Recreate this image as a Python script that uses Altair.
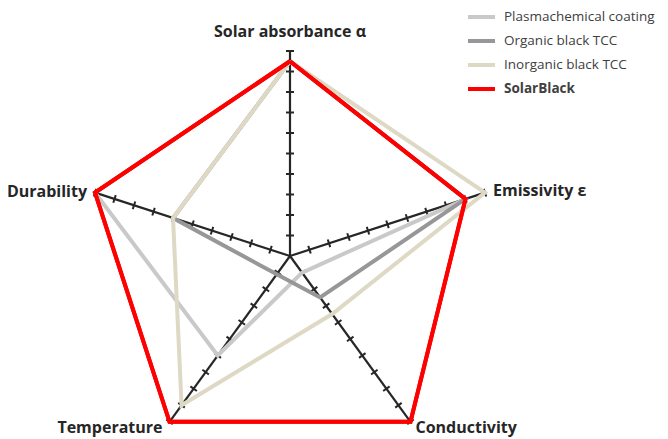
import math
import altair as alt
import pandas as pd

# ---- data ----
categories = ["Solar absorbance α", "Emissivity ε", "Conductivity", "Temperature", "Durability"]
series_names = ["Plasmachemical coating", "Organic black TCC", "Inorganic black TCC", "SolarBlack"]
series_colors = ["#C9C9C9", "#979797", "#DDD9C4", "#FF0000"]
plasmachemical = [9.5, 9.0, 1.0, 6.0, 10.0]
organic_tcc = [9.5, 9.0, 2.5, 1.1, 6.0]
inorganic_tcc = [9.5, 10.0, 3.5, 9.0, 6.0]
solarblack = [9.5, 9.0, 10.0, 10.0, 10.0]
axis_max = 10
tick_values = list(range(1, 11))

# ---- layout constants ----
W, H = 652, 431
center_px = (282, 248)
unit_px = 20.5
tick_half = 4.0 / unit_px

def ang(i):
    return math.radians(90 - 72 * i)

# series table
rows = []
for name, vals in zip(series_names, [plasmachemical, organic_tcc, inorganic_tcc, solarblack]):
    for k in range(len(categories) + 1):
        i = k % len(categories)
        rows.append({"series": name, "category": categories[i], "order": k,
                     "x": vals[i] * math.cos(ang(i)), "y": vals[i] * math.sin(ang(i))})
series_df = pd.DataFrame(rows)

# axis spokes
axis_df = pd.DataFrame([{"category": c, "x": 0.0, "y": 0.0,
                         "x2": axis_max * math.cos(ang(i)), "y2": axis_max * math.sin(ang(i))}
                        for i, c in enumerate(categories)])

# tick marks (perpendicular crosses)
trows = []
for i, c in enumerate(categories):
    a = ang(i)
    px, py = -math.sin(a), math.cos(a)
    for t in tick_values:
        cx, cy = t * math.cos(a), t * math.sin(a)
        trows.append({"x": cx - px * tick_half, "y": cy - py * tick_half,
                      "x2": cx + px * tick_half, "y2": cy + py * tick_half})
tick_df = pd.DataFrame(trows)

label_df = pd.DataFrame([{"category": c, "x": axis_max * math.cos(ang(i)), "y": axis_max * math.sin(ang(i))}
                         for i, c in enumerate(categories)])
legend_df = pd.DataFrame({"series": series_names})

xdom = [-center_px[0] / unit_px, (W - center_px[0]) / unit_px]
ydom = [-(H - center_px[1]) / unit_px, center_px[1] / unit_px]
xs = alt.Scale(domain=xdom, nice=False, zero=False)
ys = alt.Scale(domain=ydom, nice=False, zero=False)

X = lambda f: alt.X(f, type="quantitative", scale=xs, axis=None)
Y = lambda f: alt.Y(f, type="quantitative", scale=ys, axis=None)
color_scale = alt.Scale(domain=series_names, range=series_colors)

spokes = alt.Chart(axis_df).mark_rule(color="#262626", strokeWidth=2.2).encode(
    x=X("x"), y=Y("y"), x2="x2", y2="y2")
ticks = alt.Chart(tick_df).mark_rule(color="#262626", strokeWidth=2).encode(
    x=X("x"), y=Y("y"), x2="x2", y2="y2")

lines = alt.Chart(series_df).mark_line(strokeWidth=4, strokeJoin="miter").encode(
    x=X("x"), y=Y("y"), order=alt.Order("order:Q"),
    color=alt.Color("series:N", scale=color_scale, legend=None),
)
red = alt.Chart(series_df).transform_filter(alt.datum.series == "SolarBlack").mark_line(
    strokeWidth=4, strokeJoin="miter", color="#FF0000").encode(
    x=X("x"), y=Y("y"), order=alt.Order("order:Q"))

label_cfg = [
    ("center", 0, -14),
    ("left", 8, 3),
    ("left", 5, 11),
    ("right", -7, 11),
    ("right", -8, 4),
]
labels = []
for c, (al, dx, dy) in zip(categories, label_cfg):
    labels.append(
        alt.Chart(label_df).transform_filter(alt.datum.category == c).mark_text(
            align=al, baseline="alphabetic", dx=dx, dy=dy, font="Open Sans", fontSize=16,
            fontWeight="bold", color="#262626").encode(x=X("x"), y=Y("y"), text="category:N")
    )

# manual legend
LY = alt.Y("series:N", scale=alt.Scale(type="point", domain=series_names, range=[9, 81], padding=0), axis=None)
leg_sym = alt.Chart(legend_df).mark_rule(strokeWidth=4).encode(
    x=alt.value(460), x2=alt.value(487), y=LY,
    color=alt.Color("series:N", scale=color_scale, legend=None))
leg_txt = alt.Chart(legend_df).transform_filter(alt.datum.series != "SolarBlack").mark_text(
    align="left", baseline="middle", font="Open Sans", fontSize=13.5, color="#404040").encode(
    x=alt.value(496), y=LY, text="series:N")
leg_txt_b = alt.Chart(legend_df).transform_filter(alt.datum.series == "SolarBlack").mark_text(
    align="left", baseline="middle", font="Open Sans", fontSize=13.5, fontWeight="bold", color="#404040").encode(
    x=alt.value(496), y=LY, text="series:N")

radar = alt.layer(spokes, ticks, lines, red, *labels)
leg = alt.layer(leg_sym, leg_txt, leg_txt_b)

chart = alt.layer(radar, leg).resolve_scale(y="independent").properties(
    width=W, height=H, padding=0, autosize="none"
).configure_view(stroke=None)

chart.save("out.html", embed_options={"renderer": "svg", "actions": False})
